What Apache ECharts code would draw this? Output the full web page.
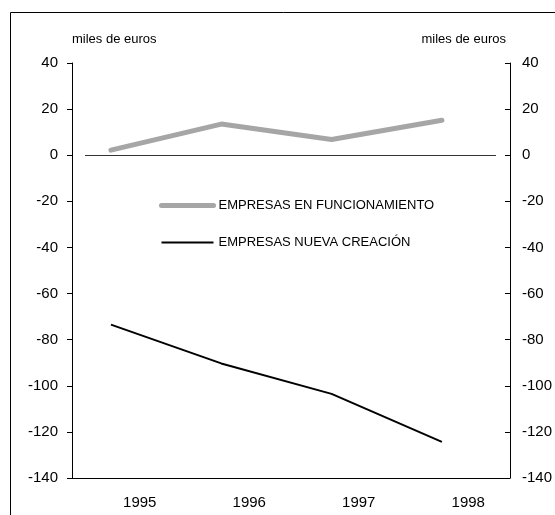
<!DOCTYPE html>
<html>
<head>
<meta charset="utf-8">
<script src="https://cdn.jsdelivr.net/npm/echarts@6/dist/echarts.min.js"></script>
<style>
  html, body { margin: 0; padding: 0; background: #fff; }
  #chart { width: 555px; height: 515px; }
</style>
</head>
<body>
<div id="chart"></div>
<script>
// datos
var years = ['1995', '1996', '1997', '1998'];
var funcionamiento = [2.2, 13.5, 6.8, 15.2];
var nuevaCreacion = [-73.5, -90.3, -103.5, -124.3];
var yTicks = { min: -140, max: 40, step: 20 };

function toPoints(arr) {
    return arr.map(function (v, i) { return [i, v]; });
}

var chart = echarts.init(document.getElementById('chart'));
var font = 'Liberation Sans, Arial, sans-serif';

var yBase = {
    type: 'value',
    min: yTicks.min,
    max: yTicks.max,
    interval: yTicks.step,
    splitLine: { show: false },
    axisLine: { show: true, onZero: false, lineStyle: { color: '#000', width: 1 } },
    axisTick: { show: true, length: 5, lineStyle: { color: '#000' } },
    nameTextStyle: { color: '#000', fontSize: 13, fontFamily: font },
    axisLabel: { color: '#000', fontSize: 15, fontFamily: font }
};

var option = {
    animation: false,
    backgroundColor: '#fff',
    graphic: [{
        type: 'rect',
        shape: { x: 10.5, y: 12.5, width: 700, height: 700 },
        style: { fill: null, stroke: '#000', lineWidth: 1 },
        silent: true
    }],
    grid: { left: 72, right: 44, top: 63, bottom: 37 },
    legend: {
        orient: 'vertical',
        left: 159,
        top: 199,
        padding: 0,
        itemWidth: 52,
        itemHeight: 14,
        itemGap: 24,
        itemStyle: { opacity: 0 },
        textStyle: { color: '#000', fontSize: 13, fontFamily: font },
        data: [
            { name: 'EMPRESAS EN FUNCIONAMIENTO', lineStyle: { width: 5, cap: 'round' } },
            { name: 'EMPRESAS NUEVA CREACIÓN', lineStyle: { width: 2 } }
        ]
    },
    xAxis: [{
        type: 'category',
        data: years,
        boundaryGap: true,
        axisLine: { onZero: false, lineStyle: { color: '#000' } },
        axisTick: { inside: true, length: 5, lineStyle: { color: '#000' } },
        axisLabel: {
            color: '#000', fontSize: 15, fontFamily: font, margin: 17,
            padding: [0, 0, 0, 26]
        }
    }, {
        type: 'value',
        min: -0.353,
        max: 3.617,
        show: false
    }],
    yAxis: [
        Object.assign({}, yBase, {
            position: 'left',
            name: 'miles de euros',
            nameGap: 17,
            nameTextStyle: Object.assign({}, yBase.nameTextStyle, { align: 'left' }),
            axisLabel: Object.assign({}, yBase.axisLabel, { margin: 14 })
        }),
        Object.assign({}, yBase, {
            position: 'right',
            name: 'miles de euros',
            nameGap: 17,
            nameTextStyle: Object.assign({}, yBase.nameTextStyle, { align: 'right', padding: [0, 4, 0, 0] }),
            axisTick: { show: true, inside: true, length: 5, lineStyle: { color: '#000' } },
            axisLabel: Object.assign({}, yBase.axisLabel, { margin: 12 })
        })
    ],
    series: [{
        name: 'EMPRESAS EN FUNCIONAMIENTO',
        type: 'line',
        xAxisIndex: 1,
        yAxisIndex: 0,
        data: toPoints(funcionamiento),
        symbol: 'none',
        color: '#a6a6a6',
        lineStyle: { color: '#a6a6a6', width: 5, cap: 'round' },
        z: 3,
        markLine: {
            silent: true,
            symbol: 'none',
            label: { show: false },
            lineStyle: { color: '#333', width: 1, type: 'solid' },
            data: [[{ coord: [-0.235, 0] }, { coord: [3.49, 0] }]]
        }
    }, {
        name: 'EMPRESAS NUEVA CREACIÓN',
        type: 'line',
        xAxisIndex: 1,
        yAxisIndex: 0,
        data: toPoints(nuevaCreacion),
        symbol: 'none',
        color: '#000',
        lineStyle: { color: '#000', width: 2 },
        z: 3
    }]
};

chart.setOption(option);
</script>
</body>
</html>
